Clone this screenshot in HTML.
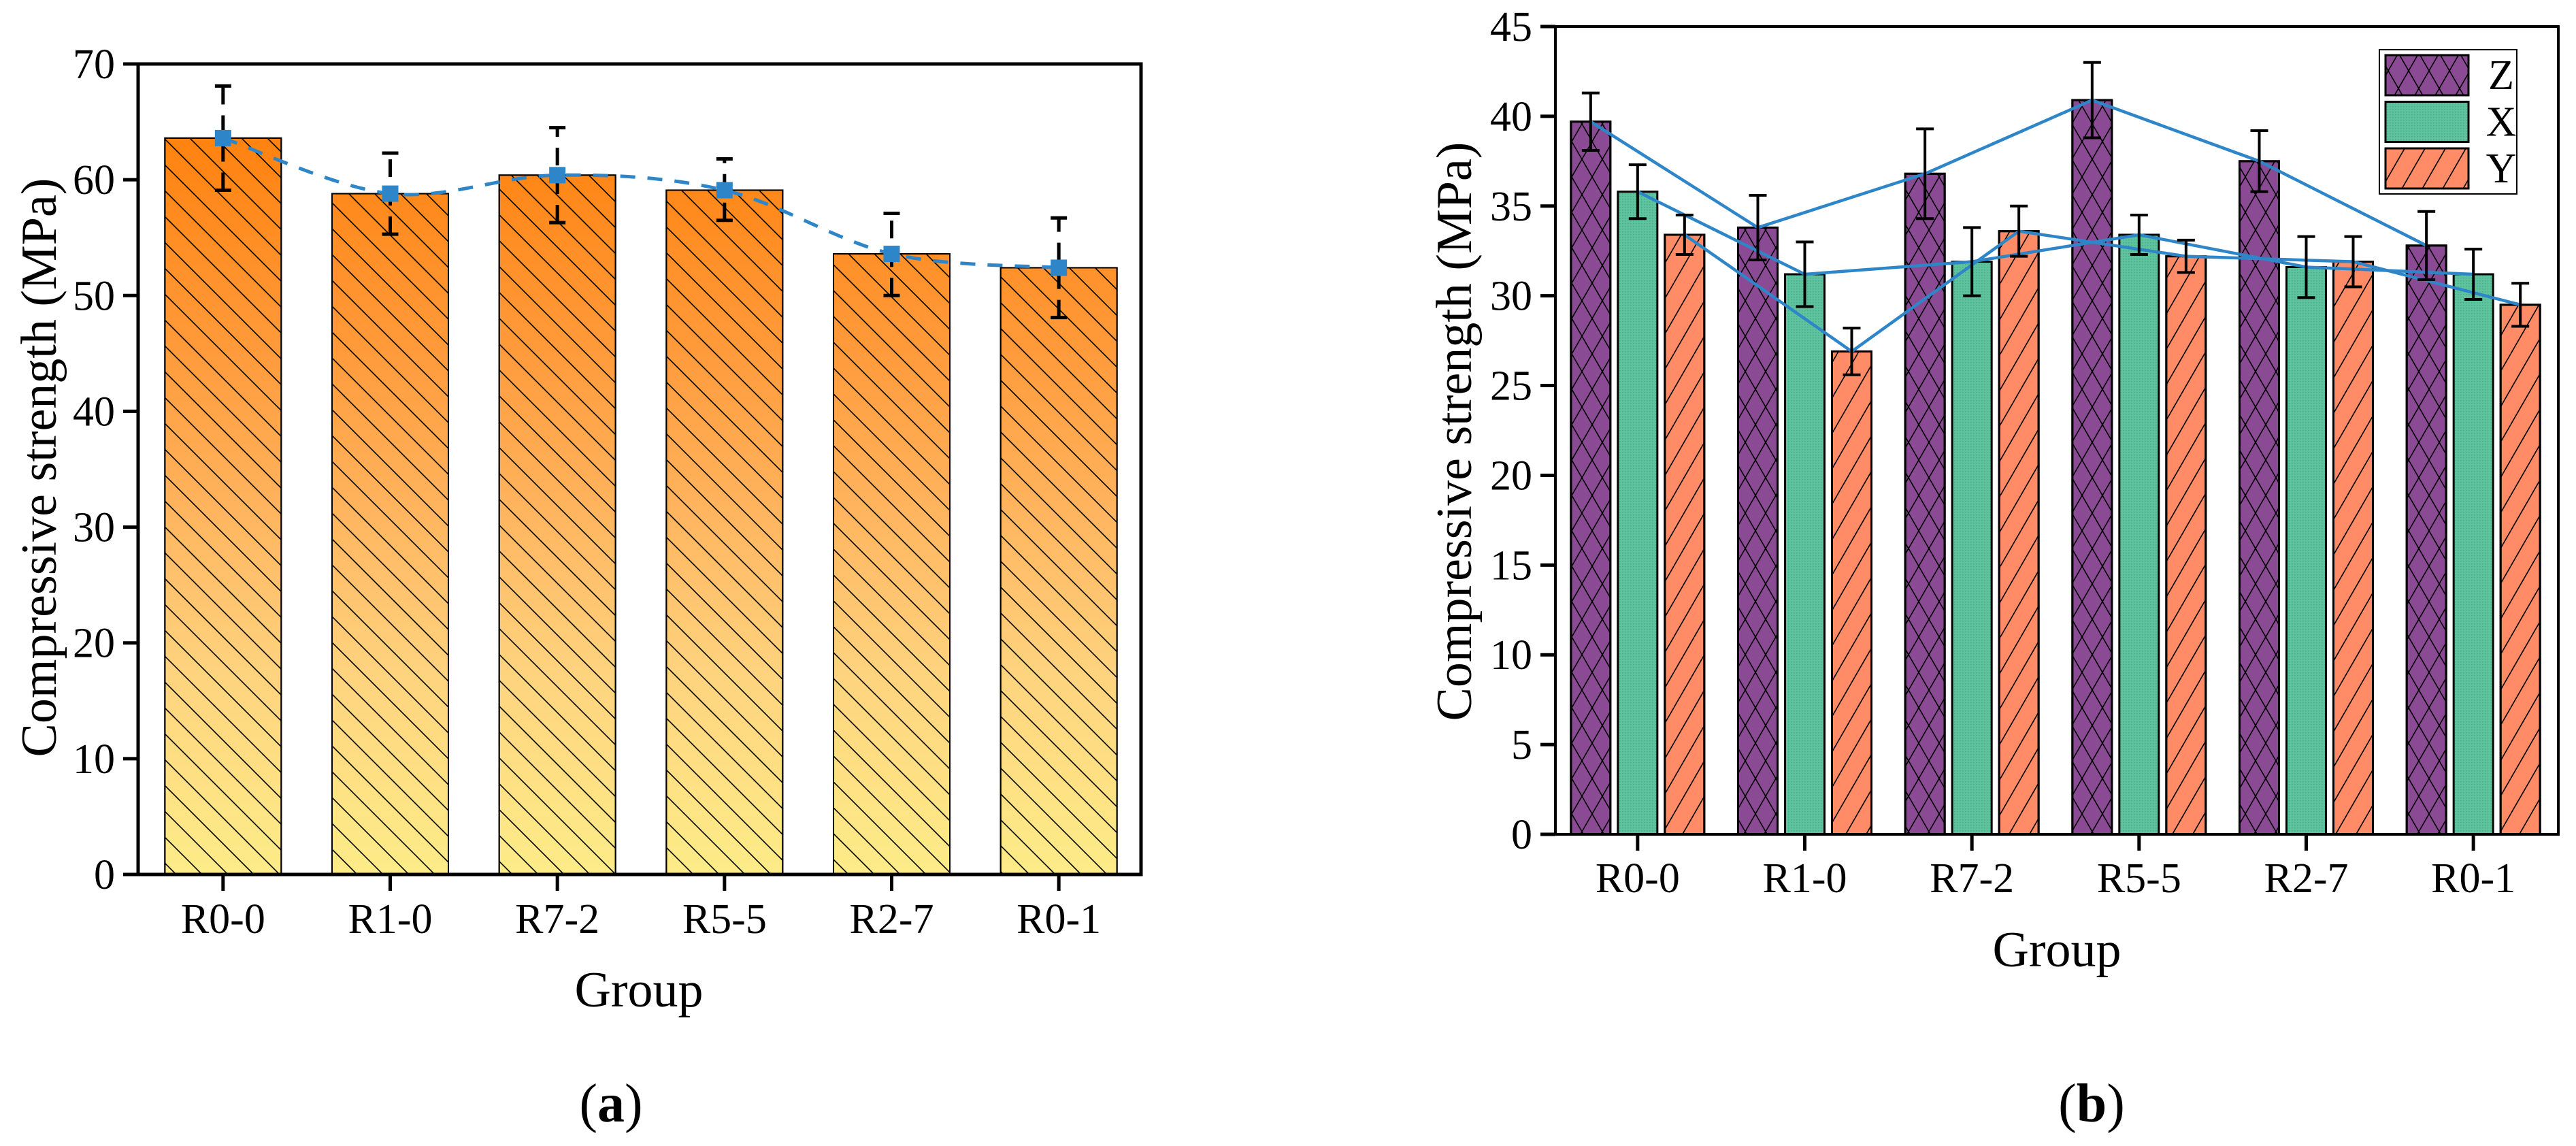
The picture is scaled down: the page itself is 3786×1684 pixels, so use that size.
<!DOCTYPE html>
<html><head><meta charset="utf-8"><style>
html,body{margin:0;padding:0;background:#fff}
svg{display:block}
text{font-family:"Liberation Serif",serif;fill:#000}
</style></head><body>
<svg id="fig" width="3786" height="1684" viewBox="0 0 3786 1684" xmlns="http://www.w3.org/2000/svg">
<defs>
<linearGradient id="gradA" gradientUnits="userSpaceOnUse" x1="0" y1="94" x2="0" y2="1285">
<stop offset="0" stop-color="#ff7a00"/><stop offset="0.35" stop-color="#ff9a3a"/><stop offset="0.55" stop-color="#ffb45e"/><stop offset="0.75" stop-color="#fed37e"/><stop offset="1" stop-color="#fdec88"/>
</linearGradient>
<pattern id="hatchA" patternUnits="userSpaceOnUse" width="38" height="38">
<path d="M-4,-4 L42,42 M-4,34 L4,42 M34,-4 L42,4" stroke="#000" stroke-width="1.6"/>
</pattern>
<pattern id="hatchZ" patternUnits="userSpaceOnUse" width="30" height="52">
<path d="M0,0 L30,52 M30,0 L0,52" stroke="#000" stroke-width="1.6"/>
</pattern>
<pattern id="hatchY" patternUnits="userSpaceOnUse" width="30" height="52">
<path d="M30,0 L0,52 M60,0 L30,52 M0,0 L-30,52" stroke="#000" stroke-width="1.6"/>
</pattern>
<pattern id="dotsX" patternUnits="userSpaceOnUse" width="4" height="4">
<rect width="4" height="4" fill="#5ec49e"/><rect width="1.5" height="1.5" fill="#4aa886"/>
</pattern>
</defs>
<g id="chartA"></g>
<g id="chartB"></g>
</svg>
<script>
// ---- Chart A data ----
const catsA = ["R0-0","R1-0","R7-2","R5-5","R2-7","R0-1"];
const valsA = [63.6, 58.8, 60.4, 59.1, 53.6, 52.4];
const errHiA = [68.1, 62.3, 64.5, 61.8, 57.1, 56.7];
const errLoA = [59.1, 55.3, 56.3, 56.5, 50.0, 48.1];
const ticksA = [0,10,20,30,40,50,60,70];
// ---- Chart B data ----
const catsB = ["R0-0","R1-0","R7-2","R5-5","R2-7","R0-1"];
const seriesNamesB = ["Z","X","Y"];
const valsZ = [39.7, 33.8, 36.8, 40.9, 37.5, 32.8];
const valsX = [35.8, 31.2, 31.9, 33.4, 31.6, 31.2];
const valsY = [33.4, 26.9, 33.6, 32.2, 31.9, 29.5];
const errZ = [1.6, 1.8, 2.5, 2.1, 1.7, 1.9];
const errX = [1.5, 1.8, 1.9, 1.1, 1.7, 1.4];
const errY = [1.1, 1.3, 1.4, 0.9, 1.4, 1.2];
const ticksB = [0,5,10,15,20,25,30,35,40,45];

const NS="http://www.w3.org/2000/svg";
const TF=62;
function mk(parent,tag,attrs,txt){const e=document.createElementNS(NS,tag);for(const k in attrs)e.setAttribute(k,attrs[k]);if(txt!==undefined)e.textContent=txt;parent.appendChild(e);return e;}

// ===== Chart A =====
(function(){
const g=document.getElementById('chartA');
const L=203,R=1677,T=94,B=1285,ymax=70;
const y=v=>B-(v/ymax)*(B-T);
const step=(R-L)/catsA.length;
const x=i=>L+step*(i+0.5)+2;
const bw=171;
catsA.forEach((c,i)=>{
  const r=mk(g,'rect',{x:x(i)-bw/2,y:y(valsA[i]),width:bw,height:B-y(valsA[i]),fill:'url(#gradA)',stroke:'#000','stroke-width':2});
  
  
  const h=mk(g,'rect',{x:x(i)-bw/2,y:y(valsA[i]),width:bw,height:B-y(valsA[i]),fill:'url(#hatchA)',stroke:'#000','stroke-width':2});
  
  
});
const pts=valsA.map((v,i)=>[x(i),y(v)]);
let d='M'+pts[0][0]+','+pts[0][1];
for(let i=0;i<pts.length-1;i++){const p0=pts[i-1]||pts[i],p1=pts[i],p2=pts[i+1],p3=pts[i+2]||p2;
 const c1=[p1[0]+(p2[0]-p0[0])/6,p1[1]+(p2[1]-p0[1])/6],c2=[p2[0]-(p3[0]-p1[0])/6,p2[1]-(p3[1]-p1[1])/6];
 d+=' C'+c1+' '+c2+' '+p2;}
const ln=mk(g,'path',{d:d,fill:'none',stroke:'#2e86c8','stroke-width':5,'stroke-dasharray':'22,18'});


catsA.forEach((c,i)=>{
  const eg=mk(g,'g',{});
  
  
  mk(eg,'line',{x1:x(i),x2:x(i),y1:y(errLoA[i]),y2:y(errHiA[i]),stroke:'#000','stroke-width':5,'stroke-dasharray':'26,16'});
  mk(eg,'line',{x1:x(i)-12,x2:x(i)+12,y1:y(errHiA[i]),y2:y(errHiA[i]),stroke:'#000','stroke-width':5});
  mk(eg,'line',{x1:x(i)-12,x2:x(i)+12,y1:y(errLoA[i]),y2:y(errLoA[i]),stroke:'#000','stroke-width':5});
  const m=mk(g,'rect',{x:x(i)-12,y:y(valsA[i])-12,width:24,height:24,fill:'#2e86c8'});
  
  
});
const fr=mk(g,'path',{d:`M${L},${T} L${L},${B} L${R},${B} L${R},${T} Z`,fill:'none',stroke:'#000','stroke-width':5});


ticksA.forEach(t=>{
  mk(g,'line',{x1:L-22,x2:L,y1:y(t),y2:y(t),stroke:'#000','stroke-width':5});
  const tl=mk(g,'text',{x:L-34,y:y(t)+21,'text-anchor':'end','font-size':TF},String(t));
  
  
});
catsA.forEach((c,i)=>{
  mk(g,'line',{x1:x(i),x2:x(i),y1:B,y2:B+24,stroke:'#000','stroke-width':5});
  const tl=mk(g,'text',{x:x(i),y:1371,'text-anchor':'middle','font-size':TF},c);
  
  
});
const yt=mk(g,'text',{x:0,y:0,'text-anchor':'middle','font-size':74,transform:'translate(82,687) rotate(-90)'},'Compressive strength (MPa)');


const xt=mk(g,'text',{x:939,y:1479,'text-anchor':'middle','font-size':74},'Group');


const pl=mk(g,'text',{x:898,y:1648,'text-anchor':'middle','font-size':80});


mk(pl,'tspan',{},'(');mk(pl,'tspan',{'font-weight':'bold'},'a');mk(pl,'tspan',{},')');
})();

// ===== Chart B =====
(function(){
const g=document.getElementById('chartB');
const L=2286,R=3760,T=39,B=1226,ymax=45;
const y=v=>B-(v/ymax)*(B-T);
const step=(R-L)/catsB.length;
const x=i=>L+step*(i+0.5)-2;
const bw=58,off=69;
const series=[[valsZ,errZ,'#8b4a94','url(#hatchZ)',-off],[valsX,errX,'url(#dotsX)',null,0],[valsY,errY,'#ff8c66','url(#hatchY)',off]];
series.forEach((s,si)=>{
  s[0].forEach((v,i)=>{
    const cx=x(i)+s[4];
    const r=mk(g,'rect',{x:cx-bw/2,y:y(v),width:bw,height:B-y(v),fill:s[2],stroke:'#000','stroke-width':3});
    
    
    if(s[3]){const h=mk(g,'rect',{x:cx-bw/2,y:y(v),width:bw,height:B-y(v),fill:s[3],stroke:'#000','stroke-width':3});
      
      }
  });
});
series.forEach((s,si)=>{
  const p=s[0].map((v,i)=>(x(i)+s[4])+','+y(v)).join(' ');
  const pl=mk(g,'polyline',{points:p,fill:'none',stroke:'#2e86c8','stroke-width':4.5});
  
  
});
series.forEach((s,si)=>{
  s[0].forEach((v,i)=>{
    const cx=x(i)+s[4];
    const eg=mk(g,'g',{stroke:'#000','stroke-width':4});
    
    
    mk(eg,'line',{x1:cx,x2:cx,y1:y(v-s[1][i]),y2:y(v+s[1][i])});
    mk(eg,'line',{x1:cx-13,x2:cx+13,y1:y(v-s[1][i]),y2:y(v-s[1][i])});
    mk(eg,'line',{x1:cx-13,x2:cx+13,y1:y(v+s[1][i]),y2:y(v+s[1][i])});
  });
});
const fr=mk(g,'path',{d:`M${L},${T} L${L},${B} L${R},${B} L${R},${T} Z`,fill:'none',stroke:'#000','stroke-width':4});


ticksB.forEach(t=>{
  mk(g,'line',{x1:L-22,x2:L,y1:y(t),y2:y(t),stroke:'#000','stroke-width':5});
  const tl=mk(g,'text',{x:L-34,y:y(t)+21,'text-anchor':'end','font-size':TF},String(t));
  
  
});
catsB.forEach((c,i)=>{
  mk(g,'line',{x1:x(i),x2:x(i),y1:B,y2:B+24,stroke:'#000','stroke-width':5});
  const tl=mk(g,'text',{x:x(i),y:1311,'text-anchor':'middle','font-size':TF},c);
  
  
});
const lg=mk(g,'g',{});


mk(lg,'rect',{x:3497,y:73,width:202,height:212,fill:'#fff',stroke:'#000','stroke-width':2});
const lfill=[['#8b4a94','url(#hatchZ)'],['url(#dotsX)',null],['#ff8c66','url(#hatchY)']];
seriesNamesB.forEach((n,i)=>{
  const yy=81+i*68.5;
  const le=mk(lg,'g',{});
  
  
  mk(le,'rect',{x:3506,y:yy,width:122,height:59,fill:lfill[i][0],stroke:'#000','stroke-width':3});
  if(lfill[i][1])mk(le,'rect',{x:3506,y:yy,width:122,height:59,fill:lfill[i][1],stroke:'#000','stroke-width':3});
  mk(le,'text',{x:3676,y:yy+50,'text-anchor':'middle','font-size':TF},n);
});
const yt=mk(g,'text',{x:0,y:0,'text-anchor':'middle','font-size':74,transform:'translate(2162,634) rotate(-90)'},'Compressive strength (MPa)');


const xt=mk(g,'text',{x:3023,y:1420,'text-anchor':'middle','font-size':74},'Group');


const pl=mk(g,'text',{x:3074,y:1648,'text-anchor':'middle','font-size':80});


mk(pl,'tspan',{},'(');mk(pl,'tspan',{'font-weight':'bold'},'b');mk(pl,'tspan',{},')');
})();
</script>
</body></html>
